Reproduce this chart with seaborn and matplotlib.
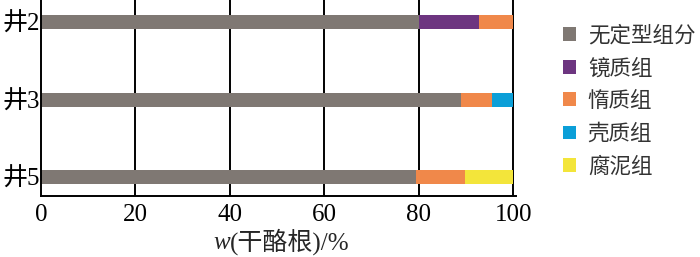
import numpy as np
import seaborn as sns
import matplotlib.pyplot as plt
from matplotlib.patches import Patch

# data
wells = ['井2', '井3', '井5']
components = ['无定型组分', '镜质组', '惰质组', '壳质组', '腐泥组']
amorphous = [80.0, 89.0, 79.4]
vitrinite = [12.7, 0.0, 0.0]
inertinite = [7.3, 6.4, 10.4]
exinite = [0.0, 4.6, 0.0]
sapropel = [0.0, 0.0, 10.2]
colors = ['#7f7873', '#6d3580', '#f0884a', '#0b9fd8', '#f3e53a']

sns.set_theme(style='white')
plt.rcParams['font.family'] = ['Liberation Serif', 'Noto Sans CJK SC']

fig = plt.figure(figsize=(7.0, 2.57), dpi=100)
ax = fig.add_axes([0.0586, 0.237, 0.678, 0.763])

series = [amorphous, vitrinite, inertinite, exinite, sapropel]
cum = np.cumsum(np.array(series), axis=0)

# grid lines behind the bars
for v in [20, 40, 60, 80, 100]:
    ax.axvline(v, color='black', lw=1.4, zorder=0)

# draw stacked bars: largest cumulative first, then overlay
for i in range(len(series) - 1, -1, -1):
    sns.barplot(x=cum[i], y=wells, color=colors[i], saturation=1, orient='h',
                width=0.18, linewidth=0, ax=ax, zorder=2)

ax.set_xlim(0, 100.5)
ax.set_ylim(2.245, -0.284)
ax.set_xticks([0, 20, 40, 60, 80, 100])
ax.tick_params(axis='both', length=0, labelsize=18, colors='black')
ax.tick_params(axis='x', pad=6)
ax.tick_params(axis='y', pad=1)
ax.set_xlabel('')
ax.set_ylabel('')
for s in ['top', 'right']:
    ax.spines[s].set_visible(False)
for s in ['left', 'bottom']:
    ax.spines[s].set_color('black')
    ax.spines[s].set_linewidth(1.4)

# x label: italic w followed by normal text
fig.text(0.328, 0.03, 'w', style='italic', fontsize=18, ha='right', va='baseline')
fig.text(0.328, 0.03, '(干酪根)/%', fontsize=18, ha='left', va='baseline')

handles = [Patch(facecolor=c, edgecolor='none', label=n) for c, n in zip(colors, components)]
fig.legend(handles=handles, loc='upper left', bbox_to_anchor=(0.776, 0.975),
           frameon=False, fontsize=15.5, handlelength=0.62, handleheight=0.62,
           handletextpad=0.55, labelspacing=0.58, labelcolor='#333333')

plt.savefig('out.png', dpi=100)
